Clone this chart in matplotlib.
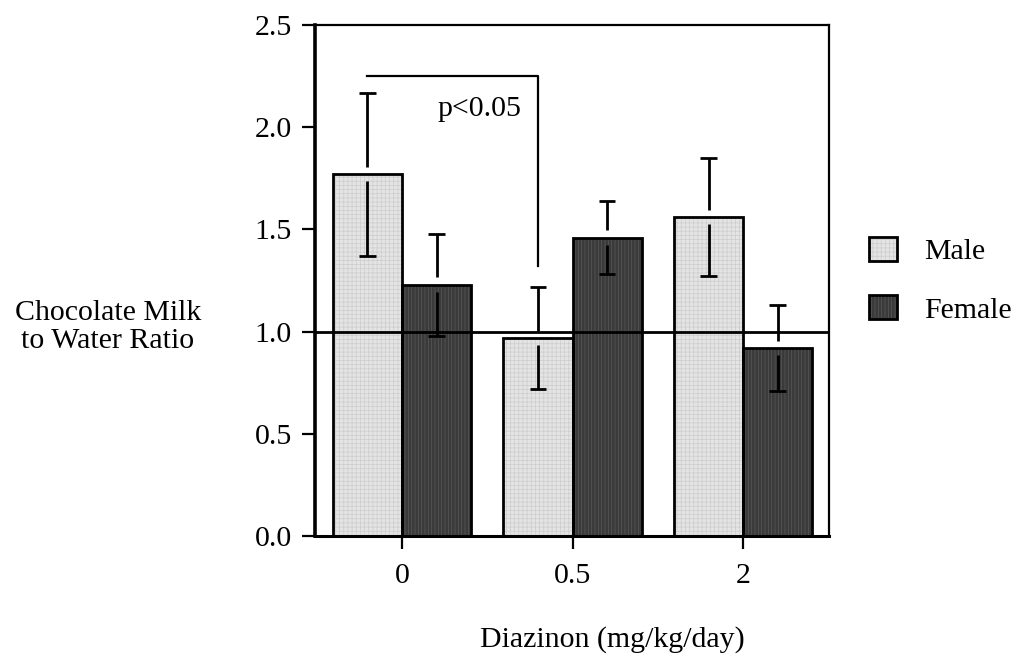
import matplotlib
matplotlib.use("Agg")
import matplotlib.pyplot as plt
import numpy as np

# data
doses = ["0", "0.5", "2"]
male_mean = [1.77, 0.97, 1.56]
male_err = [0.40, 0.25, 0.29]
female_mean = [1.23, 1.46, 0.92]
female_err = [0.25, 0.18, 0.21]
y_ticks = [0.0, 0.5, 1.0, 1.5, 2.0, 2.5]

plt.rcParams["font.family"] = ["Liberation Serif", "DejaVu Serif"]
plt.rcParams["hatch.linewidth"] = 0.5
FS = 21.5

fig = plt.figure(figsize=(10.21, 6.6), dpi=100)
ax = fig.add_axes([0.3085, 0.188, 0.5035, 0.774])

x = np.arange(len(doses))
w = 0.405
gap = 0.035      # small white gap of the error line at the bar top
cap = 0.048


def draw_group(pos, vals, errs, face, hatch_col, hatch):
    # texture layer then outline layer (hatch colour differs from edge)
    tex = ax.bar(pos, vals, w, color=face, edgecolor=hatch_col, hatch=hatch,
                 linewidth=0, zorder=2)
    out = ax.bar(pos, vals, w, fill=False, edgecolor="black", linewidth=2,
                 zorder=3)
    vals = np.asarray(vals)
    errs = np.asarray(errs)
    ax.vlines(pos, vals + gap, vals + errs, color="black", lw=2, zorder=4)
    ax.vlines(pos, vals - errs, vals - gap, color="black", lw=2, zorder=4)
    ax.hlines(vals + errs, pos - cap, pos + cap, color="black", lw=2, zorder=4)
    ax.hlines(vals - errs, pos - cap, pos + cap, color="black", lw=2, zorder=4)
    return (tex, out)


h_m = draw_group(x - w / 2, male_mean, male_err, "#e4e4e4", "#cdcdcd", "++++")
h_f = draw_group(x + w / 2, female_mean, female_err, "#3a3a3a", "#5a5a5a",
                 "|||||")

ax.axhline(1.0, color="black", lw=2, zorder=5)

# significance bracket between male 0 and male 0.5
bx0 = x[0] - w / 2
bx1 = x[1] - w / 2
ax.plot([bx0, bx1, bx1], [2.25, 2.25, 1.32], color="black", lw=1.6,
        zorder=5)
ax.text(0.457, 2.09, "p<0.05", ha="center", va="center", fontsize=FS)

ax.set_xlim(-0.51, 2.504)
ax.set_ylim(0, 2.5)
ax.set_xticks(x)
ax.set_xticklabels(doses)
ax.set_yticks(y_ticks)
ax.set_yticklabels(["%.1f" % v for v in y_ticks])
ax.tick_params(axis="both", direction="out", length=9.5, width=1.6,
               labelsize=FS, colors="black")
ax.tick_params(axis="y", pad=7)
ax.tick_params(axis="x", pad=10)
for s in ["top", "right"]:
    ax.spines[s].set_linewidth(1.6)
ax.spines["left"].set_linewidth(2.6)
ax.spines["bottom"].set_linewidth(2.2)

fig.text(108 / 1021, 1 - 327 / 660, "Chocolate Milk\nto Water Ratio",
         ha="center", va="center", fontsize=FS, linespacing=1.05)
fig.text(612 / 1021, 1 - 640 / 660, "Diazinon (mg/kg/day)",
         ha="center", va="center", fontsize=FS)

fig.legend(handles=[h_m, h_f], labels=["Male", "Female"], frameon=False,
           fontsize=FS, loc="upper left",
           bbox_to_anchor=(869 / 1021, 1 - 237 / 660),
           handlelength=0.93, handleheight=0.87, handletextpad=0.93,
           labelspacing=1.0, borderpad=0, borderaxespad=0)

fig.savefig("out.png", dpi=100)
